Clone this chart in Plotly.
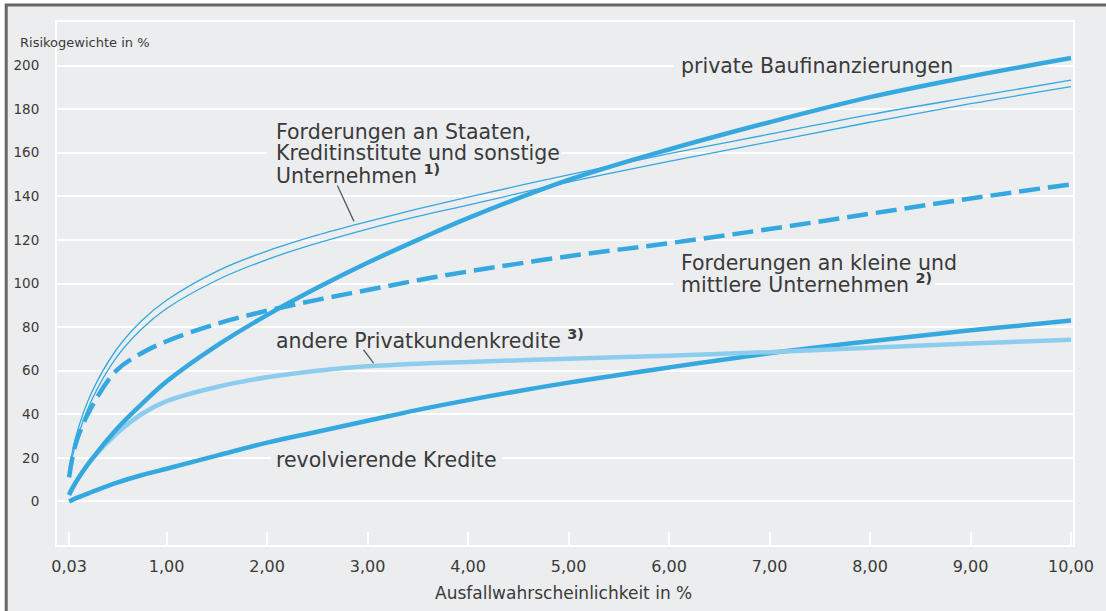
import plotly.graph_objects as go

# Ausfallwahrscheinlichkeit in % (x) and Risikogewichte in % (y)
pd_pct = [0.03, 0.1, 0.25, 0.5, 0.75, 1.0, 1.5, 2.0, 2.5, 3.0, 3.5, 4.0, 5.0, 6.0, 7.0, 8.0, 9.0, 10.0]

staaten_upper = [14.5, 30, 49.5, 69.6, 82.8, 92.3, 105.6, 114.9, 122.2, 128.4, 134.2, 139.6, 149.9, 159.6, 168.5, 177.5, 185.5, 193.3]
staaten_lower = [13.0, 27, 46.0, 66.0, 79.0, 88.5, 101.5, 111.0, 118.5, 125.0, 130.8, 136.0, 146.5, 156.0, 165.0, 174.0, 182.5, 190.3]
baufinanz = [3.0, 9, 19, 33, 44.5, 55, 71.5, 85.5, 98, 109.5, 120, 130, 147.5, 161.5, 174, 185.5, 195, 203.5]
kmu = [11.0, 27, 43, 60, 68, 73.5, 81.5, 87.5, 92.5, 97, 101.5, 105.5, 112.5, 118.5, 125, 132, 139, 145.5]
privat = [3.5, 9, 19, 31, 40, 46, 52.5, 57, 60, 62, 63.2, 64, 65.5, 66.8, 68.5, 70.5, 72.5, 74.2]
revolv = [0.0, 1.5, 4.2, 8.5, 12, 15, 21, 27, 32, 37, 42, 46.5, 54.5, 61.5, 68, 73.5, 78.5, 83]

x_ticks = [0.03, 1, 2, 3, 4, 5, 6, 7, 8, 9, 10]
x_labels = ["0,03", "1,00", "2,00", "3,00", "4,00", "5,00", "6,00", "7,00", "8,00", "9,00", "10,00"]
y_ticks = [0, 20, 40, 60, 80, 100, 120, 140, 160, 180, 200]

BG = "#ecedef"
BLUE = "#35a8e0"
LIGHT = "#8ccdee"
TXT = "#3a3a3a"
FONT = "DejaVu Sans"

fig = go.Figure()
fig.add_trace(go.Scatter(x=pd_pct, y=revolv, mode="lines", line=dict(color=BLUE, width=4.5, shape="spline")))
fig.add_trace(go.Scatter(x=pd_pct, y=privat, mode="lines", line=dict(color=LIGHT, width=4.5, shape="spline")))
fig.add_trace(go.Scatter(x=pd_pct, y=kmu, mode="lines",
                         line=dict(color=BLUE, width=4.5, dash="21px,8px", shape="spline")))
fig.add_trace(go.Scatter(x=pd_pct, y=staaten_upper, mode="lines", line=dict(color=BLUE, width=1.3, shape="spline")))
fig.add_trace(go.Scatter(x=pd_pct, y=staaten_lower, mode="lines", line=dict(color=BLUE, width=1.3, shape="spline")))
fig.add_trace(go.Scatter(x=pd_pct, y=baufinanz, mode="lines", line=dict(color=BLUE, width=4.5, shape="spline")))

# curve labels, one entry per text line (keeps the tight leading of the original)
labels = [
    ("Forderungen an Staaten,", 2.05, 169.5),
    ("Kreditinstitute und sonstige", 2.05, 160.0),
    ("Unternehmen <sup><b>1)</b></sup>", 2.05, 150.0),
    ("private Baufinanzierungen", 6.08, 199.8),
    ("Forderungen an kleine und", 6.08, 109.5),
    ("mittlere Unternehmen <sup><b>2)</b></sup>", 6.08, 100.0),
    ("andere Privatkundenkredite <sup><b>3)</b></sup>", 2.05, 74.5),
    ("revolvierende Kredite", 2.05, 19.0),
]
for text, x, y in labels:
    fig.add_annotation(x=x, y=y, xref="x", yref="y", text=text, showarrow=False,
                       xanchor="left", yanchor="middle", align="left", borderpad=3,
                       font=dict(family=FONT, size=20.5, color=TXT))

# grey patches that interrupt the gridlines behind the labels
# (anchor x, anchor y, width px, height px)
masks = [(2.00, 159.6, 295, 66), (6.046, 199.95, 286, 21), (6.046, 105.1, 261, 44), (2.04, 19.5, 231, 21)]
for ax, ay, w, h in masks:
    fig.add_shape(type="rect", xref="x", yref="y", layer="between",
                  xsizemode="pixel", xanchor=ax, x0=0, x1=w,
                  ysizemode="pixel", yanchor=ay, y0=-h / 2, y1=h / 2,
                  fillcolor=BG, line=dict(width=0))

# leader lines
fig.add_shape(type="line", xref="x", yref="y", x0=2.70, y0=145, x1=2.865, y1=128.5,
              line=dict(color="#5a5a5a", width=1.3))
fig.add_shape(type="line", xref="x", yref="y", x0=2.96, y0=69.6, x1=3.06, y1=63.5,
              line=dict(color="#5a5a5a", width=1.3))

# outer frame: dark rule on top and left, grey panel
fig.add_shape(type="rect", xref="paper", yref="paper", x0=-0.05, y0=-0.3, x1=1.1, y1=1.0325,
              fillcolor=BG, line=dict(color="#666666", width=3), layer="below")

fig.add_annotation(x=-0.038, y=0.96, xref="paper", yref="paper", text="Risikogewichte in %",
                   showarrow=False, xanchor="left", yanchor="middle",
                   font=dict(family=FONT, size=13, color=TXT))
fig.add_annotation(x=0.4985, y=-0.092, xref="paper", yref="paper", text="Ausfallwahrscheinlichkeit in %",
                   showarrow=False, xanchor="center", yanchor="middle",
                   font=dict(family=FONT, size=17, color=TXT))

fig.update_layout(
    width=1106, height=611, margin=dict(l=57, r=29, t=22, b=66),
    paper_bgcolor="white", plot_bgcolor=BG, showlegend=False,
    xaxis=dict(range=[-0.09, 10.02], tickvals=x_ticks, ticktext=x_labels, showgrid=False,
               zeroline=False, showline=True, linecolor="white", linewidth=2, mirror=True,
               ticks="inside", ticklen=13, tickwidth=2, tickcolor="white", ticklabelstandoff=6,
               tickfont=dict(family=FONT, size=16, color=TXT)),
    yaxis=dict(range=[-20, 220], tickvals=y_ticks, showgrid=True, gridcolor="white", gridwidth=2,
               zeroline=False, showline=True, linecolor="white", linewidth=2, mirror=True,
               ticks="", ticklabelstandoff=13,
               tickfont=dict(family=FONT, size=13.5, color=TXT)),
)

# the page body would otherwise add an 8px margin around the figure
fig.write_html("out.html", config=dict(displayModeBar=False),
               post_script="document.body.style.margin='0px';")
